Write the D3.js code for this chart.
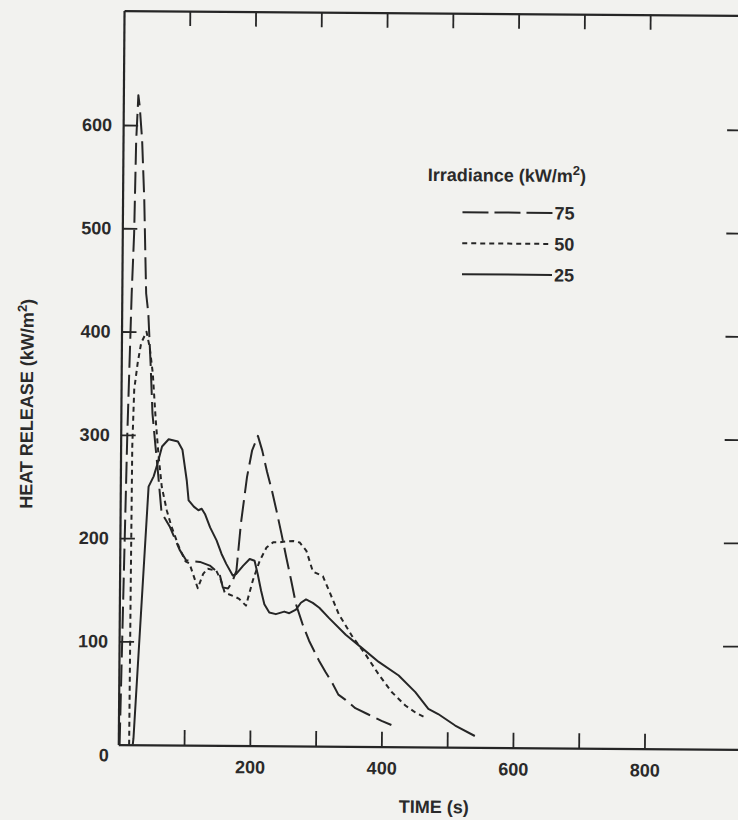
<!DOCTYPE html>
<html><head><meta charset="utf-8">
<script src="https://cdn.jsdelivr.net/npm/d3@7"></script>
<style>
html,body{margin:0;padding:0;background:#f2f2ef;}
svg{display:block;}
text{font-family:"Liberation Sans",Arial,sans-serif;font-weight:bold;fill:#2a2a2a;}
</style></head><body>
<svg id="chart" width="738" height="820"></svg>
<script>
// ---- data (time in s, heat release in kW/m2) ----
const time75 = [2, 6, 10, 15, 18, 20, 22.8, 25, 29, 33, 35.5, 37, 40.5, 44.5, 48, 53, 56, 63, 76, 91, 101, 112, 122, 137, 152, 157, 165, 171, 177.5, 183.8, 192.5, 200, 208.6, 215.3, 223, 230.6, 238, 245.7, 253.4, 261, 268.6, 278.7, 288.8, 304, 314, 324, 334, 345, 360, 380, 400, 415];
const hrr75  = [0, 150, 300, 437, 495, 585, 629, 618, 586, 528, 470, 437, 418, 370, 321, 289, 271, 225, 211, 189, 179, 178, 177.5, 174, 166, 153, 152, 158, 169, 215, 260, 286, 300, 286, 265, 247, 227, 205, 182, 160, 137, 118, 102, 83, 72, 62, 50, 45, 37, 31, 25, 21];

const time50 = [16.5, 17, 17.7, 20, 25, 30, 38, 43, 48, 53, 57.5, 63, 71, 78, 91, 100, 106, 119, 127, 134, 147, 154, 160, 177, 182, 192.5, 202.6, 212.8, 223, 233, 243, 253, 263.5, 273.6, 283.7, 293.8, 309, 319, 334, 355, 375, 395, 415, 436, 452, 468.5];
const hrr50  = [0, 150, 289, 344, 370, 389, 400, 385, 360, 315, 282, 250, 227, 212, 190, 178, 176, 152, 166, 171, 169, 160, 148, 143.6, 142, 135.5, 160, 179, 192, 197, 197, 198, 198.5, 197, 189, 169, 164.6, 150, 127.5, 106, 89, 70, 53, 40, 33, 28];

const time25 = [22, 23, 43, 50.6, 55.7, 63, 73, 87, 94, 101, 104, 106, 112, 119, 124, 129, 137, 147, 154.6, 162, 172, 177, 187.5, 197.6, 205, 210, 215.3, 220.4, 228, 238, 250.8, 258.4, 268.5, 276, 283.7, 294, 304, 319, 344.5, 370, 395, 425.5, 451, 471, 486, 512, 542];
const hrr25  = [0, 6, 250, 260, 271, 289, 296, 294, 286, 256, 237, 235.5, 231, 227.5, 229, 224, 211, 198.5, 185.6, 175.8, 164.6, 166, 174, 180.7, 179, 166, 150, 137, 129, 127.5, 130, 128.5, 132, 138.7, 142, 138.7, 134, 124, 108, 95, 82, 69, 53, 37, 32, 21, 11];

const seriesNames = ["75", "50", "25"];
const xTickValues = [0, 100, 200, 300, 400, 500, 600, 700, 800];
const xTickLabels = ["0", "", "200", "", "400", "", "600", "", "800"];
const yTickValues = [100, 200, 300, 400, 500, 600];
const yTickLabels = ["100", "200", "300", "400", "500", "600"];

// ---- drawing ----
const svg = d3.select("#chart");
svg.append("rect").attr("width", 738).attr("height", 820).attr("fill", "#f2f2ef");

const x = d3.scaleLinear().domain([0, 1000]).range([121, 778.7]);
const y = d3.scaleLinear().domain([0, 710.8]).range([747, 13]);

const g = svg.append("g").attr("transform", "rotate(0.45,430,400)");
const ink = "#262626";

function styleAxis(sel) {
  sel.select(".domain").attr("stroke", ink).attr("stroke-width", 2.2);
  sel.selectAll(".tick line").attr("stroke", ink).attr("stroke-width", 1.8);
  sel.selectAll(".tick text").attr("fill", "#2a2a2a")
    .style("font-family", '"Liberation Sans", Arial, sans-serif')
    .style("font-weight", "bold").style("font-size", "18px");
}

// bottom axis
const xAxisB = g.append("g").attr("transform", `translate(0,${y(0)})`)
  .call(d3.axisBottom(x).tickValues(xTickValues).tickSize(-15).tickSizeOuter(0).tickPadding(15)
    .tickFormat((d, i) => xTickLabels[i]));
styleAxis(xAxisB);
xAxisB.selectAll(".tick").filter(d => d === 0).select("text").attr("x", -15).attr("y", 4);
xAxisB.selectAll(".tick").filter(d => d === 0).select("line").remove();

// top axis
const xAxisT = g.append("g").attr("transform", `translate(0,${y.range()[1]})`)
  .call(d3.axisTop(x).tickValues(xTickValues.filter(d => d > 0)).tickSize(-15).tickSizeOuter(0).tickFormat(""));
styleAxis(xAxisT);

// left axis
const yAxisL = g.append("g").attr("transform", `translate(${x(0)},0)`)
  .call(d3.axisLeft(y).tickValues(yTickValues).tickSize(-15).tickSizeOuter(0).tickPadding(11)
    .tickFormat((d, i) => yTickLabels[i]));
styleAxis(yAxisL);

// right axis (frame edge lies just beyond the picture)
const yAxisR = g.append("g").attr("transform", `translate(745,0)`)
  .call(d3.axisRight(y).tickValues(yTickValues).tickSize(-20).tickSizeOuter(0).tickFormat(""));
styleAxis(yAxisR);
yAxisR.select(".domain").remove();

// axis titles
const yTitle = g.append("text").attr("transform", "translate(33,407) rotate(-90)")
  .attr("text-anchor", "middle").style("font-size", "18px");
yTitle.append("tspan").text("HEAT RELEASE (kW/m");
yTitle.append("tspan").attr("dy", -7).style("font-size", "13px").text("2");
yTitle.append("tspan").attr("dy", 7).text(")");

g.append("text").attr("x", 437).attr("y", 813).attr("text-anchor", "middle")
  .style("font-size", "18px").text("TIME (s)");

// curves
const dashes = {"75": "22,7", "50": "5,4", "25": null};
const seriesData = {
  "75": time75.map((t, i) => ({t, v: hrr75[i]})),
  "50": time50.map((t, i) => ({t, v: hrr50[i]})),
  "25": time25.map((t, i) => ({t, v: hrr25[i]}))
};
const line = d3.line().x(d => x(d.t)).y(d => y(d.v)).curve(d3.curveLinear);
seriesNames.forEach(name => {
  g.append("path").datum(seriesData[name])
    .attr("d", line).attr("fill", "none").attr("stroke", ink)
    .attr("stroke-width", 2).attr("stroke-linejoin", "round")
    .attr("stroke-dasharray", dashes[name]);
});

// legend
const lg = g.append("g");
const lt = lg.append("text").attr("x", 426).attr("y", 181).style("font-size", "18px");
lt.append("tspan").text("Irradiance (kW/m");
lt.append("tspan").attr("dy", -7).style("font-size", "13px").text("2");
lt.append("tspan").attr("dy", 7).text(")");
const legendY = d3.scalePoint().domain(seriesNames).range([212, 274]);
seriesNames.forEach(name => {
  lg.append("line").attr("x1", 461).attr("x2", 551)
    .attr("y1", legendY(name)).attr("y2", legendY(name))
    .attr("stroke", ink).attr("stroke-width", 2)
    .attr("stroke-dasharray", name === "75" ? "26,6" : dashes[name]);
  lg.append("text").attr("x", 553).attr("y", legendY(name)).attr("dy", "0.36em")
    .style("font-size", "18px").text(name);
});
</script>
</body></html>
